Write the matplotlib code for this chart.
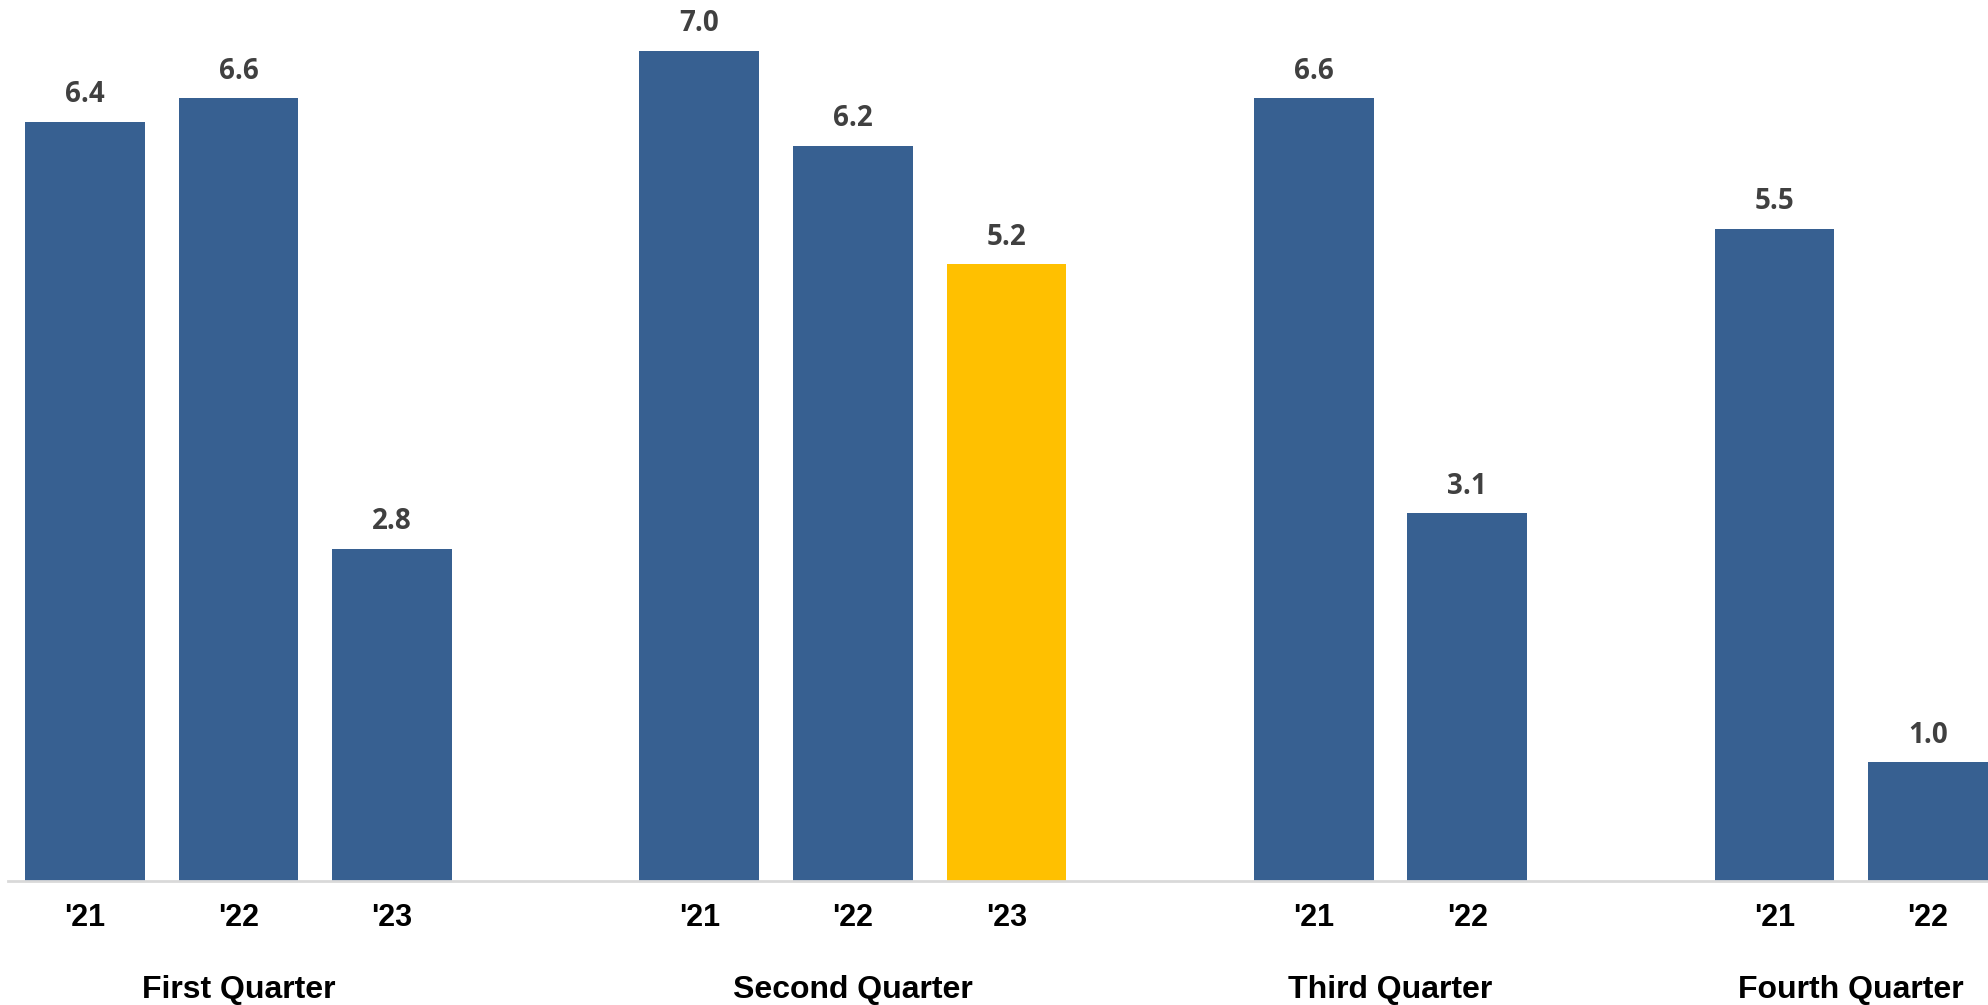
import matplotlib
matplotlib.use("Agg")
import matplotlib.pyplot as plt
import matplotlib.transforms as mtransforms

# Data
quarters = ["First Quarter", "Second Quarter", "Third Quarter", "Fourth Quarter"]
years = [["'21", "'22", "'23"], ["'21", "'22", "'23"], ["'21", "'22"], ["'21", "'22"]]
values = [[6.4, 6.6, 2.8], [7.0, 6.2, 5.2], [6.6, 3.1], [5.5, 1.0]]
highlight = (1, 2)  # Second Quarter '23

BLUE = "#376091"
YELLOW = "#FFC000"

W, H = 1988, 1005
fig = plt.figure(figsize=(W / 100, H / 100), dpi=100)

# axes geometry in pixels
base_px = 881
px_per_unit = 118.6
ymax = 7.4
left_px = 8
ax = fig.add_axes([left_px / W, 1 - base_px / H, (W - left_px) / W, ymax * px_per_unit / H])

pos = 0
xs_all = []
for qi, (yl, vals) in enumerate(zip(years, values)):
    xs = []
    for yi, (lab, v) in enumerate(zip(yl, vals)):
        color = YELLOW if (qi, yi) == highlight else BLUE
        ax.bar(pos, v, width=0.78, color=color, zorder=2)
        ax.text(pos, v + 0.165, f"{v:.1f}", ha="center", va="baseline",
                fontsize=20, fontweight="bold", color="#404040", family="Open Sans")
        xs.append(pos)
        pos += 1
    xs_all.append(xs)
    pos += 1

ax.set_xlim(-0.5, 12.39)
ax.set_ylim(0, ymax)
ax.set_yticks([])
ax.set_xticks([])
for s in ["top", "right", "left"]:
    ax.spines[s].set_visible(False)
ax.spines["bottom"].set_color("#D9D9D9")
ax.spines["bottom"].set_linewidth(2)
ax.spines["bottom"].set_zorder(3)

trans = mtransforms.blended_transform_factory(ax.transData, fig.transFigure)
for qi, xs in enumerate(xs_all):
    for x, lab in zip(xs, years[qi]):
        ax.text(x, 1 - 926 / H, lab, transform=trans, ha="center", va="baseline",
                fontsize=22, fontweight="bold", color="black", family="Liberation Sans")
    cx = sum(xs) / len(xs)
    ax.text(cx, 1 - 998 / H, quarters[qi], transform=trans, ha="center", va="baseline",
            fontsize=23, fontweight="bold", color="black", family="Liberation Sans",
            clip_on=False)

fig.savefig("out.png", dpi=100)
